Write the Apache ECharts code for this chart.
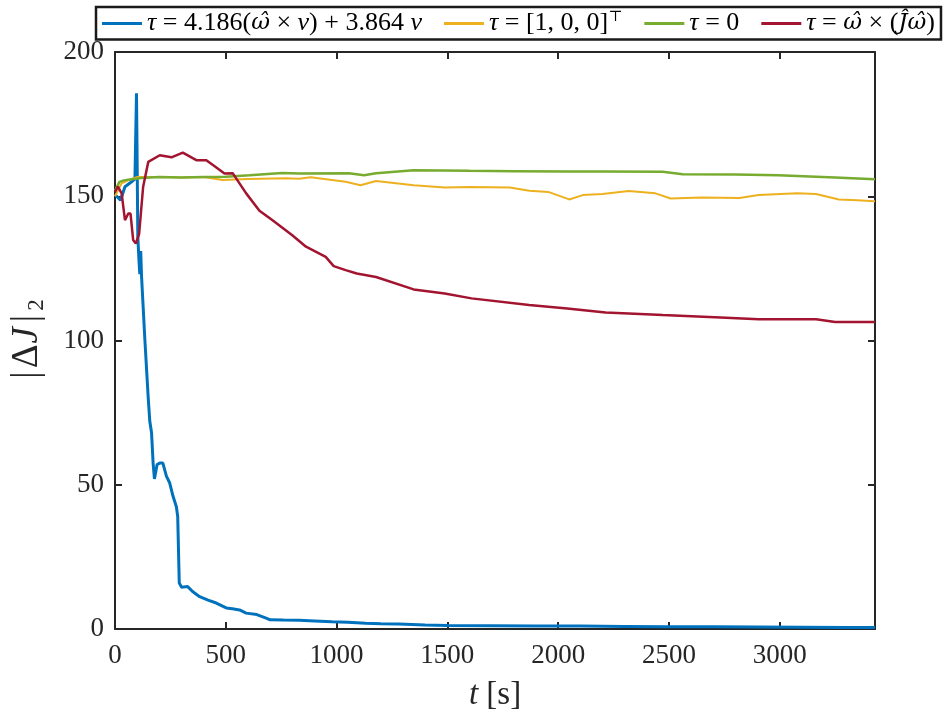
<!DOCTYPE html>
<html>
<head>
<meta charset="utf-8">
<script src="https://cdn.jsdelivr.net/npm/echarts@6/dist/echarts.min.js"></script>
<style>
  html, body { margin: 0; padding: 0; background: #fff; }
  #chart { width: 945px; height: 717px; }
</style>
</head>
<body>
<div id="chart"></div>
<script>
// time axis [s] and |dJ|_2 per control law
var blueT = [0, 25, 45, 75, 90, 97, 99, 103, 108, 112, 116, 120, 135, 150, 157, 165, 172, 178, 183, 190, 202, 216, 232, 247, 262, 277, 283, 290, 300, 306, 328, 350, 382, 420, 457, 502, 530, 562, 592, 640, 682, 700, 760, 831, 900, 980, 1050, 1131, 1200, 1281, 1400, 1500, 1700, 1900, 2100, 2300, 2500, 2700, 2900, 3100, 3300, 3430];
var blueV = [150.6, 148.6, 153.3, 155, 156, 185.7, 170, 136, 128, 123, 131, 122, 100, 80, 72, 68, 57.5, 52, 51.6, 57, 57.5, 57.5, 53, 50.6, 46, 42.4, 39, 16, 14.5, 14.7, 14.7, 13, 11.2, 10, 9, 7.3, 7, 6.6, 5.5, 5, 3.8, 3.2, 3.1, 3, 2.8, 2.5, 2.3, 2, 1.8, 1.7, 1.4, 1.2, 1.1, 1.0, 1.0, 0.9, 0.8, 0.8, 0.7, 0.6, 0.5, 0.5];

var yellowT = [0, 30, 60, 100, 200, 300, 400, 486, 600, 772, 831, 883, 1041, 1108, 1178, 1348, 1488, 1600, 1782, 1870, 1955, 2050, 2111, 2200, 2318, 2439, 2508, 2650, 2818, 2905, 3079, 3164, 3267, 3350, 3430];
var yellowV = [150, 154.5, 155.5, 156.7, 156.7, 156.5, 156.7, 155.6, 156, 156.2, 156.1, 156.6, 155, 153.8, 155.3, 153.8, 153, 153.2, 153, 151.9, 151.5, 148.9, 150.4, 150.8, 151.8, 151, 149.2, 149.6, 149.4, 150.4, 151, 150.8, 148.9, 148.6, 148.3];

var greenT = [0, 20, 40, 80, 120, 200, 300, 400, 500, 607, 755, 831, 1056, 1124, 1178, 1348, 1600, 1800, 2040, 2200, 2472, 2562, 2800, 2993, 3250, 3430];
var greenV = [152, 155, 155.5, 156, 156.3, 156.7, 156.5, 156.7, 156.8, 157.3, 158.1, 157.9, 158, 157.3, 158, 159, 158.8, 158.7, 158.6, 158.6, 158.5, 157.6, 157.5, 157.3, 156.5, 155.9];

var redT = [0, 13, 30, 45, 60, 70, 82, 94, 109, 127, 150, 202, 255, 306, 367, 412, 442, 494, 531, 592, 652, 711, 800, 831, 862, 951, 987, 1041, 1091, 1178, 1348, 1488, 1609, 1869, 2041, 2214, 2472, 2733, 2905, 3164, 3250, 3430];
var redV = [151.5, 153.3, 151, 141.7, 144, 144, 134.8, 133.6, 137, 153.3, 161.9, 164.2, 163.5, 165.1, 162.5, 162.5, 160.8, 157.9, 158, 151, 145, 141.7, 136.5, 134.5, 132.5, 129, 125.8, 124.4, 123.2, 122, 117.7, 116.3, 114.6, 112.3, 111.1, 109.7, 108.8, 108, 107.4, 107.4, 106.4, 106.4];

var xTicks = [0, 500, 1000, 1500, 2000, 2500, 3000];
var yTicks = [0, 50, 100, 150, 200];

var legendNames = [
    '{i|τ} = 4.186({h|ω̂} × {i|v}) + 3.864 {i|v}',
    '{i|τ} = [1, 0, 0]{s|⊤}',
    '{i|τ} = 0',
    '{i|τ} = {h|ω̂} × ({h|Ĵω̂})'
];

function pairs(t, v) {
    var out = [];
    for (var k = 0; k < t.length; k++) out.push([t[k], v[k]]);
    return out;
}

var chart = echarts.init(document.getElementById('chart'));

var serif = '"Liberation Serif", "DejaVu Serif", serif';
var hatFont = '"DejaVu Serif", serif';
var axisColor = '#262626';
var xMax = 3430;
var legendSize = 26;

function axisBase(extra) {
    var base = {
        type: 'value',
        axisLine: { show: true, onZero: false, lineStyle: { color: axisColor, width: 2 } },
        axisTick: { show: true, inside: true, length: 7, lineStyle: { color: axisColor, width: 2 } },
        splitLine: { show: false }
    };
    for (var key in extra) base[key] = extra[key];
    return base;
}

chart.setOption({
    backgroundColor: '#fff',
    animation: false,
    color: ['#0072BD', '#EDB120', '#77AC30', '#A2142F'],
    textStyle: { fontFamily: serif },
    legend: {
        left: 96,
        top: 7,
        padding: [3, 6, 3, 6],
        itemGap: 22,
        itemWidth: 40,
        itemHeight: 3,
        icon: 'rect',
        borderColor: '#1a1a1a',
        borderWidth: 2.5,
        backgroundColor: '#fff',
        textStyle: {
            fontFamily: serif,
            fontSize: legendSize,
            color: '#000',
            rich: {
                i: { fontFamily: serif, fontStyle: 'italic', fontSize: legendSize, color: '#000' },
                h: { fontFamily: hatFont, fontStyle: 'italic', fontSize: legendSize - 3, color: '#000' },
                s: { fontFamily: serif, fontSize: 15, color: '#000', verticalAlign: 'top', padding: [0, 0, 12, 0] }
            }
        },
        data: legendNames
    },
    grid: { left: 115, right: 70, top: 52, bottom: 88, containLabel: false },
    xAxis: [
        axisBase({
            min: 0, max: xMax, interval: 500,
            name: '{i|t} [s]',
            nameLocation: 'middle',
            nameGap: 50,
            nameTextStyle: {
                fontFamily: serif, fontSize: 33, color: axisColor,
                rich: { i: { fontFamily: serif, fontStyle: 'italic', fontSize: 33, color: axisColor } }
            },
            axisLabel: {
                fontFamily: serif, fontSize: 27, color: axisColor, margin: 13,
                showMaxLabel: false,
                formatter: function (v) { return xTicks.indexOf(v) >= 0 ? String(v) : ''; }
            }
        }),
        axisBase({
            min: 0, max: xMax, interval: 500, position: 'top',
            axisLabel: { show: false }
        })
    ],
    yAxis: [
        axisBase({
            min: 0, max: 200, interval: 50,
            name: '{b||}Δ{i|J}{b||}{s|2}',
            nameLocation: 'middle',
            nameRotate: 90,
            nameGap: 67,
            nameTextStyle: {
                fontFamily: serif, fontSize: 37, color: axisColor,
                rich: {
                    b: { fontFamily: serif, fontSize: 37, color: axisColor, padding: [0, 3, 0, 3] },
                    i: { fontFamily: serif, fontStyle: 'italic', fontSize: 37, color: axisColor, padding: [0, 2, 0, 1] },
                    s: { fontFamily: serif, fontSize: 23, color: axisColor, padding: [18, 0, 0, 1] }
                }
            },
            axisLabel: {
                fontFamily: serif, fontSize: 27, color: axisColor, margin: 11,
                formatter: function (v) { return yTicks.indexOf(v) >= 0 ? String(v) : ''; }
            }
        }),
        axisBase({
            min: 0, max: 200, interval: 50, position: 'right',
            axisLabel: { show: false }
        })
    ],
    series: [
        { name: legendNames[0], type: 'line', showSymbol: false, symbol: 'none', lineStyle: { width: 3 }, data: pairs(blueT, blueV) },
        { name: legendNames[1], type: 'line', showSymbol: false, symbol: 'none', lineStyle: { width: 2 }, data: pairs(yellowT, yellowV) },
        { name: legendNames[2], type: 'line', showSymbol: false, symbol: 'none', lineStyle: { width: 2.5 }, data: pairs(greenT, greenV) },
        { name: legendNames[3], type: 'line', showSymbol: false, symbol: 'none', lineStyle: { width: 2.5 }, data: pairs(redT, redV) }
    ]
});
</script>
</body>
</html>
